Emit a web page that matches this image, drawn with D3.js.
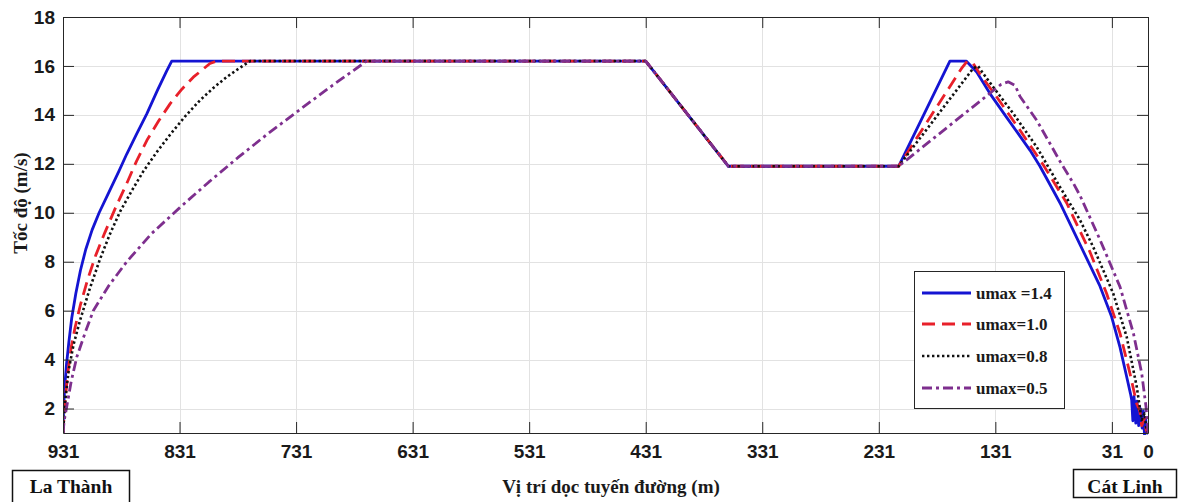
<!DOCTYPE html>
<html>
<head>
<meta charset="utf-8">
<script src="https://cdn.jsdelivr.net/npm/d3@7"></script>
<style>
    body { margin: 0; background: #fff; }
    svg { display: block; font-family: 'Liberation Serif', 'Times New Roman', serif; font-weight: bold; }
</style>
</head>
<body>
<div id="chart"></div>
<script>
// ticks
const xTicks = [931, 831, 731, 631, 531, 431, 331, 231, 131, 31, 0]
const yTicks = [2, 4, 6, 8, 10, 12, 14, 16, 18]
const seriesNames = ['umax =1.4', 'umax=1.0', 'umax=0.8', 'umax=0.5']
const stationLeft = 'La Thành'
const stationRight = 'Cát Linh'

// umax = 1.4
const posU14 = [931, 930.5, 929.5, 928, 926, 923.5, 920, 916, 911.5, 906, 900, 893, 883, 876.3, 868, 859, 850, 842, 837.7,
    431, 360, 214, 170, 156, 147, 135.6, 121.3, 101.2, 92.7, 81.2, 75.5, 58.3, 41.2, 31.2, 24, 18.3, 15, 14, 13, 12, 10.5, 9.5, 8, 6.5, 5, 4, 3, 2, 1, 0]
const speedU14 = [1, 2.0, 2.9, 3.8, 4.7, 5.7, 6.7, 7.65, 8.5, 9.3, 10.0, 10.7, 11.7, 12.4, 13.2, 14.05, 15.0, 15.8, 16.2,
    16.2, 11.9, 11.9, 16.2, 16.2, 15.75, 14.87, 13.9, 12.55, 11.9, 10.9, 10.4, 8.7, 7.0, 5.75, 4.5, 3.3, 2.6, 2.35, 1.5, 2.5, 1.4, 2.3, 1.3, 2.0, 1.2, 1.9, 0.9, 1.6, 1.0, 1.0]

// umax = 1.0
const posU10 = [931, 930, 929, 927, 924, 920.7, 916, 910, 903, 895, 886, 876.3, 868, 859, 849, 839, 829, 819.2, 810, 804.9, 799,
    431, 360, 214, 160, 155, 150, 144.3, 129.8, 109.8, 89.8, 69.8, 49.8, 35.5, 24, 15.5, 9.7, 7, 5.4, 3, 1.5, 0]
const speedU10 = [1, 1.8, 2.4, 3.4, 4.5, 5.3, 6.25, 7.25, 8.25, 9.2, 10.2, 11.2, 12.1, 12.96, 13.75, 14.46, 15.05, 15.54, 15.9, 16.1, 16.2,
    16.2, 11.9, 11.9, 15.9, 16.2, 16.1, 15.68, 14.73, 13.37, 11.95, 10.4, 8.4, 6.7, 5.07, 3.44, 2.2, 1.9, 1.3, 1.6, 1.1, 1.0]

// umax = 0.8
const posU08 = [931, 930, 928.5, 926, 922, 916.4, 908, 899.3, 891, 882, 872, 862, 851, 839, 826, 813.4, 802, 790.5, 780, 770.5,
    431, 360, 214, 150, 146, 140, 132.7, 115.5, 95.5, 75.5, 58.3, 47, 29.8, 18.3, 9.7, 5.4, 3, 1.5, 0]
const speedU08 = [1, 1.7, 2.6, 3.6, 4.6, 5.6, 6.9, 8.1, 9.1, 10.05, 10.9, 11.7, 12.45, 13.2, 13.95, 14.6, 15.1, 15.55, 15.9, 16.2,
    16.2, 11.9, 11.9, 15.9, 16.0, 15.6, 15.13, 14.05, 12.69, 11.05, 9.7, 8.6, 6.7, 4.93, 2.9, 1.53, 1.8, 1.2, 1.0]

// umax = 0.5
const posU05 = [931, 930, 927.8, 924, 919.2, 912, 905, 892, 876.3, 855, 831, 806, 781, 756, 731, 700, 670.4,
    431, 360, 214, 126, 120, 114, 109.8, 95.5, 84, 75.5, 64, 58.3, 41.2, 24, 12.5, 5.4, 1.7, 0]
const speedU05 = [1, 1.5, 2.07, 3.1, 4.1, 5.1, 6.0, 7.0, 8.0, 9.15, 10.2, 11.25, 12.25, 13.2, 14.1, 15.2, 16.2,
    16.2, 11.9, 11.9, 15.25, 15.35, 15.2, 14.75, 13.78, 12.82, 12.1, 11.2, 10.7, 8.9, 6.97, 5.07, 3.44, 2.07, 1.0]

const width = 1183
const height = 502
const margin = { top: 17, right: 35, bottom: 69, left: 63 }
const plotW = width - margin.left - margin.right
const plotH = height - margin.top - margin.bottom
const axisColor = '#262626'

const styles = [
    { color: '#1414d2', dash: null, width: 2.8 },
    { color: '#e8202a', dash: '13,7', width: 2.8 },
    { color: '#111111', dash: '2.4,2.6', width: 2.6 },
    { color: '#7e2f8e', dash: '10,4,3,4', width: 2.8 },
]

const series = [
    { name: seriesNames[0], pos: posU14, speed: speedU14 },
    { name: seriesNames[1], pos: posU10, speed: speedU10 },
    { name: seriesNames[2], pos: posU08, speed: speedU08 },
    { name: seriesNames[3], pos: posU05, speed: speedU05 },
]

const svg = d3.select('#chart')
    .append('svg')
    .attr('width', width)
    .attr('height', height)

const x = d3.scaleLinear()
    .domain([931, 0])
    .range([margin.left, margin.left + plotW])
const y = d3.scaleLinear()
    .domain([1, 18])
    .range([margin.top + plotH, margin.top])

// grid
const grid = svg.append('g')
    .attr('stroke', '#e2e2e2')
    .attr('stroke-width', 1)
grid.selectAll('line.gx')
    .data(xTicks)
    .join('line')
    .attr('class', 'gx')
    .attr('x1', d => Math.round(x(d)) + 0.5)
    .attr('x2', d => Math.round(x(d)) + 0.5)
    .attr('y1', y(1))
    .attr('y2', y(18))
grid.selectAll('line.gy')
    .data(yTicks)
    .join('line')
    .attr('class', 'gy')
    .attr('x1', x(931))
    .attr('x2', x(0))
    .attr('y1', d => Math.round(y(d)) + 0.5)
    .attr('y2', d => Math.round(y(d)) + 0.5)

// series
svg.append('defs')
    .append('clipPath')
    .attr('id', 'plot-clip')
    .append('rect')
    .attr('x', margin.left)
    .attr('y', margin.top - 2)
    .attr('width', plotW)
    .attr('height', plotH + 4)

const lineGenerator = d3.line()
    .x(d => x(d[0]))
    .y(d => y(d[1]))

const lines = svg.append('g').attr('clip-path', 'url(#plot-clip)')
series.forEach((s, i) => {
    const points = s.pos.map((p, k) => [p, s.speed[k]])
    lines.append('path')
        .attr('d', lineGenerator(points))
        .attr('fill', 'none')
        .attr('stroke', styles[i].color)
        .attr('stroke-width', styles[i].width)
        .attr('stroke-dasharray', styles[i].dash)
        .attr('stroke-linejoin', 'round')
})

// axes
const styleAxis = (g) => {
    g.select('.domain').attr('stroke', axisColor)
    g.selectAll('.tick line').attr('stroke', axisColor)
    g.selectAll('.tick text')
        .attr('fill', '#1a1a1a')
        .attr('font-size', 19)
        .attr('font-family', null)
}

svg.append('g')
    .attr('transform', `translate(0,${margin.top + plotH})`)
    .call(d3.axisBottom(x).tickValues(xTicks).tickSizeInner(-11).tickSizeOuter(0).tickPadding(12))
    .call(styleAxis)
svg.append('g')
    .attr('transform', `translate(0,${margin.top})`)
    .call(d3.axisTop(x).tickValues(xTicks).tickSizeInner(-11).tickSizeOuter(0).tickFormat(''))
    .call(styleAxis)
svg.append('g')
    .attr('transform', `translate(${margin.left},0)`)
    .call(d3.axisLeft(y).tickValues(yTicks).tickSizeInner(-11).tickSizeOuter(0).tickPadding(8))
    .call(styleAxis)
svg.append('g')
    .attr('transform', `translate(${margin.left + plotW},0)`)
    .call(d3.axisRight(y).tickValues(yTicks).tickSizeInner(-11).tickSizeOuter(0).tickFormat(''))
    .call(styleAxis)

// axis labels
svg.append('text')
    .attr('x', 611)
    .attr('y', 493)
    .attr('text-anchor', 'middle')
    .attr('font-size', 19)
    .attr('fill', '#1a1a1a')
    .text('Vị trí dọc tuyến đường (m)')
svg.append('text')
    .attr('transform', 'translate(27,203) rotate(-90)')
    .attr('text-anchor', 'middle')
    .attr('font-size', 19)
    .attr('fill', '#1a1a1a')
    .text('Tốc độ (m/s)')

// station boxes
const stationBox = (x0, x1, y0, y1, label) => {
    svg.append('rect')
        .attr('x', x0)
        .attr('y', y0)
        .attr('width', x1 - x0)
        .attr('height', y1 - y0)
        .attr('fill', '#fff')
        .attr('stroke', '#111')
        .attr('stroke-width', 1.5)
    svg.append('text')
        .attr('x', (x0 + x1) / 2)
        .attr('y', 493)
        .attr('text-anchor', 'middle')
        .attr('font-size', 19.5)
        .attr('fill', '#111')
        .text(label)
}
stationBox(12.5, 129.5, 470.5, 510, stationLeft)
stationBox(1073.5, 1176.5, 469.5, 497.5, stationRight)

// legend
const legend = svg.append('g')
legend.append('rect')
    .attr('x', 914.5)
    .attr('y', 271.5)
    .attr('width', 150)
    .attr('height', 137)
    .attr('fill', '#fff')
    .attr('stroke', axisColor)
    .attr('stroke-width', 1)
const legendY = [293, 324, 356, 388]
series.forEach((s, i) => {
    legend.append('line')
        .attr('x1', 922)
        .attr('x2', 971)
        .attr('y1', legendY[i])
        .attr('y2', legendY[i])
        .attr('stroke', styles[i].color)
        .attr('stroke-width', styles[i].width)
        .attr('stroke-dasharray', styles[i].dash)
    legend.append('text')
        .attr('x', 976)
        .attr('y', legendY[i])
        .attr('dy', '0.35em')
        .attr('font-size', 17)
        .attr('fill', '#1a1a1a')
        .text(s.name)
})
</script>
</body>
</html>
